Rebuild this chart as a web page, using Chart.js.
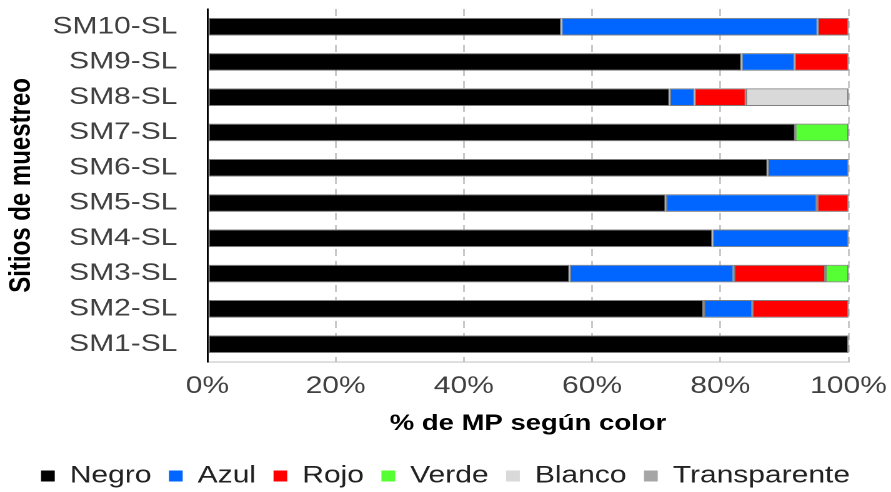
<!DOCTYPE html>
<html>
<head>
<meta charset="utf-8">
<script src="https://cdn.jsdelivr.net/npm/chart.js@4"></script>
<style>
  html, body { margin: 0; padding: 0; background: #fff; }
  #wrap { width: 891px; height: 492px; overflow: hidden; }
</style>
</head>
<body>
<div id="wrap">
  <!-- the original figure is stretched sideways, so the canvas is too -->
  <canvas id="chart" width="713" height="492" style="width:891px;height:492px;"></canvas>
</div>
<script>
const sites = ["SM1-SL", "SM2-SL", "SM3-SL", "SM4-SL", "SM5-SL", "SM6-SL", "SM7-SL", "SM8-SL", "SM9-SL", "SM10-SL"];

// % de MP por color, en el mismo orden que sites
const negro = [100, 77.4, 56.5, 78.8, 71.5, 87.4, 91.7, 72.1, 83.3, 55.2];
const azul = [0, 7.6, 25.6, 21.2, 23.6, 12.6, 0, 3.9, 8.3, 40.0];
const rojo = [0, 15.0, 14.3, 0, 4.9, 0, 0, 8.0, 8.4, 4.8];
const verde = [0, 0, 3.6, 0, 0, 0, 8.3, 0, 0, 0];
const blanco = [0, 0, 0, 0, 0, 0, 0, 16.0, 0, 0];
const transparente = [0, 0, 0, 0, 0, 0, 0, 0, 0, 0];

const xTicks = [0, 20, 40, 60, 80, 100];

const fontFam = "'Liberation Sans', Arial, sans-serif";

function serie(label, data, color) {
  return {
    label: label,
    data: data,
    backgroundColor: color,
    borderColor: "#7f7f7f",
    borderWidth: 1,
    borderSkipped: false,
    barPercentage: 0.5,
    categoryPercentage: 1
  };
}

const ctx = document.getElementById("chart").getContext("2d");
const chart = new Chart(ctx, {
  type: "bar",
  data: {
    labels: sites,
    datasets: [
      serie("Negro", negro, "#000000"),
      serie("Azul", azul, "#0066ff"),
      serie("Rojo", rojo, "#ff0000"),
      serie("Verde", verde, "#55ff33"),
      serie("Blanco", blanco, "#d9d9d9"),
      serie("Transparente", transparente, "#a6a6a6")
    ]
  },
  options: {
    indexAxis: "y",
    responsive: false,
    devicePixelRatio: 2,
    animation: false,
    layout: { padding: { top: 9, left: 0, right: 0, bottom: -6 } },
    scales: {
      x: {
        stacked: true,
        min: 0,
        max: 100,
        afterBuildTicks: (axis) => { axis.ticks = xTicks.map(v => ({ value: v })); },
        afterFit: (s) => { s.paddingRight = 34; s.paddingLeft = 0; },
        ticks: {
          callback: (v) => v + "%",
          color: "#404040",
          padding: 10,
          maxRotation: 0,
          font: { family: fontFam, size: 24 }
        },
        grid: { color: "#c8c8c8", lineWidth: 1.5, drawTicks: false },
        border: { display: true, color: "#bfbfbf", width: 1, dash: [7, 5] },
        title: {
          display: true,
          text: "% de MP según color",
          color: "#000",
          font: { family: fontFam, size: 22, weight: "bold" },
          padding: { top: 0, bottom: 13 }
        }
      },
      y: {
        stacked: true,
        reverse: true,
        afterFit: (s) => { s.width = 166; s.paddingTop = 0; s.paddingBottom = 0; },
        ticks: {
          color: "#404040",
          padding: 24,
          autoSkip: false,
          font: { family: fontFam, size: 24 }
        },
        grid: { display: false, drawTicks: false },
        border: { display: true, color: "#000", width: 1.5 },
        title: {
          display: true,
          text: "Sitios de muestreo",
          color: "#000",
          font: { family: fontFam, size: 24, weight: "bold" },
          padding: { top: 3, bottom: 0 }
        }
      }
    },
    plugins: {
      legend: {
        position: "bottom",
        labels: {
          boxWidth: 11,
          boxHeight: 11,
          padding: 14,
          color: "#222",
          font: { family: fontFam, size: 24 },
          generateLabels: (c) => Chart.defaults.plugins.legend.labels.generateLabels(c)
            .map(l => Object.assign(l, { lineWidth: 0 }))
        }
      },
      tooltip: { enabled: false }
    }
  }
});
</script>
</body>
</html>
